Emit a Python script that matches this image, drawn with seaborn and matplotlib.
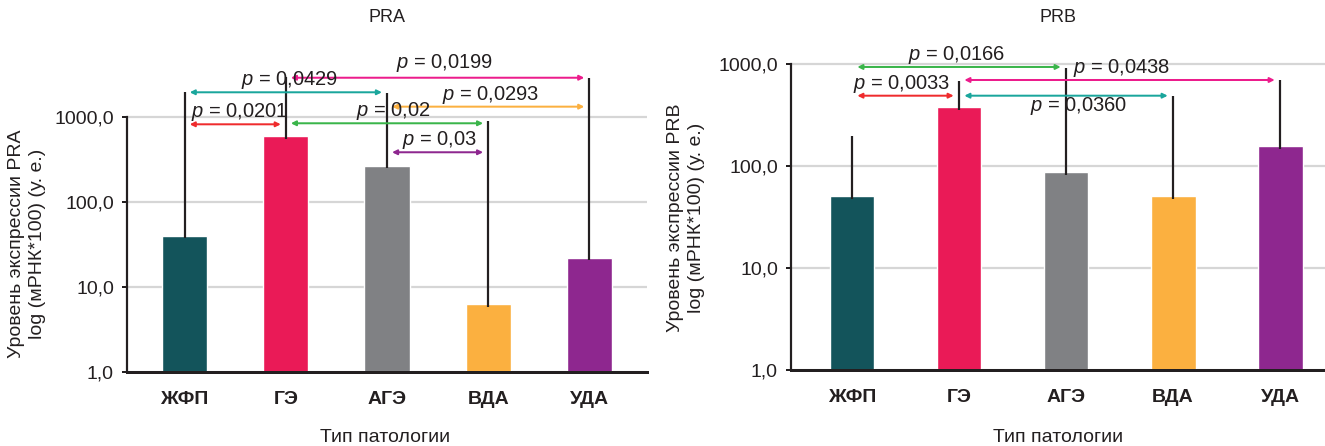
import numpy as np
import pandas as pd
import matplotlib
matplotlib.use("Agg")
import matplotlib.pyplot as plt
import seaborn as sns

# --- data -------------------------------------------------------------
categories = ["ЖФП", "ГЭ", "АГЭ", "ВДА", "УДА"]

pra_values = [40, 590, 265, 6.3, 22]
pra_upper = [1930, 2900, 1900, 900, 2870]

prb_values = [51, 380, 87, 51, 158]
prb_upper = [198, 680, 910, 490, 700]

# pairwise comparisons: (first group, second group, p-value label)
pra_pairs = [(0, 1, "0,0201"), (0, 2, "0,0429"), (1, 3, "0,02"),
             (1, 4, "0,0199"), (2, 4, "0,0293"), (2, 3, "0,03")]
prb_pairs = [(0, 2, "0,0166"), (0, 1, "0,0033"), (1, 4, "0,0438"),
             (1, 3, "0,0360")]

ytick_values = [1, 10, 100, 1000]
ytick_labels = ["1,0", "10,0", "100,0", "1000,0"]

# --- styling ----------------------------------------------------------
bar_colors = ["#13545b", "#ea1a57", "#808184", "#fbb040", "#8e278f"]
pra_arrow_colors = ["#ef2b2d", "#1aa69c", "#3ab54a", "#ec1c8c", "#fbb040", "#8e278f"]
prb_arrow_colors = ["#3ab54a", "#ef2b2d", "#ec1c8c", "#1aa69c"]
# arrow heights (data units) and label offsets (px: dx, dy)
pra_levels = [814, 1936, 837, 2870, 1312, 382]
pra_text_off = [(4, 12), (4, 12), (6, 12), (7, 15), (3, 12), (2, 12)]
prb_levels = [935, 489, 697, 489]
prb_text_off = [(-2, 12), (-4, 12), (2, 12), (13, -10)]

sns.set_theme(style="white")
plt.rcParams["font.family"] = ["Liberation Sans", "DejaVu Sans"]
plt.rcParams["mathtext.fontset"] = "custom"
plt.rcParams["mathtext.it"] = "Liberation Sans:italic"
plt.rcParams["mathtext.rm"] = "Liberation Sans"

W, H = 1325, 446
fig = plt.figure(figsize=(W / 100, H / 100), dpi=100)
PX = 72 / 100  # points per pixel

ink = "#231f20"
grid_c = "#d6d6d6"


def panel(rect, values, upper, pairs, levels, colors, text_off, ylim_top,
          xlim, bar_width, title, title_x):
    ax = fig.add_axes(rect)
    df = pd.DataFrame({"cat": categories, "val": values})
    sns.barplot(data=df, x="cat", y="val", hue="cat", palette=bar_colors,
                order=categories, hue_order=categories, legend=False,
                width=bar_width, ax=ax, saturation=1, zorder=2)
    ax.set_yscale("log")
    ax.set_ylim(1, ylim_top)
    ax.set_xlim(*xlim)

    # upper whiskers
    x = np.arange(len(categories))
    ax.vlines(x, np.array(values) * 0.93, upper, color=ink, lw=2.2 * PX,
              zorder=3, clip_on=False)

    ax.set_yticks(ytick_values)
    ax.set_yticklabels(ytick_labels)
    ax.yaxis.set_minor_locator(matplotlib.ticker.NullLocator())
    ax.set_axisbelow(True)
    ax.yaxis.grid(True, color=grid_c, lw=2.2 * PX, zorder=0)
    ax.xaxis.grid(False)

    for s in ("top", "right"):
        ax.spines[s].set_visible(False)
    ax.spines["left"].set_bounds(1, 1000)
    ax.spines["left"].set_color(ink)
    ax.spines["left"].set_linewidth(2.2 * PX)
    ax.spines["bottom"].set_color(ink)
    ax.spines["bottom"].set_linewidth(3 * PX)

    ax.tick_params(axis="y", which="major", length=5 * PX, width=2 * PX,
                   color=ink, pad=8 * PX, labelsize=14, labelcolor=ink,
                   left=True)
    ax.tick_params(axis="x", length=0, pad=19 * PX, labelsize=14,
                   labelcolor=ink)
    for lbl in ax.get_xticklabels():
        lbl.set_fontweight("bold")
    ax.set_xlabel("")
    ax.set_ylabel("")

    # significance brackets
    for (i, j, p), lvl, col, (dx, dy) in zip(pairs, levels, colors, text_off):
        ax.annotate("", xy=(j - 0.05, lvl), xytext=(i + 0.05, lvl),
                    arrowprops=dict(arrowstyle="<|-|>", color=col,
                                    lw=2 * PX, mutation_scale=7,
                                    shrinkA=0, shrinkB=0),
                    annotation_clip=False, zorder=4)
        ax.annotate(f"$p$ = {p}", xy=((i + j) / 2, lvl),
                    xytext=(dx * PX, dy * PX), textcoords="offset points",
                    ha="center", va="center", fontsize=14.5, color=ink,
                    annotation_clip=False, zorder=5)

    fig.text(title_x / W, 1 - 17 / H, title, ha="center", va="center",
             fontsize=13, color=ink)
    return ax


# left panel: PRA
panel([127 / W, (H - 372) / H, 520 / W, 4 * 85.1 / H],
      pra_values, pra_upper, pra_pairs, pra_levels, pra_arrow_colors,
      pra_text_off, 1e4, (-0.57, 4.57), 0.445, "PRA", 387)

# right panel: PRB
panel([791 / W, (H - 370) / H, 534 / W, 3.5 * 102 / H],
      prb_values, prb_upper, prb_pairs, prb_levels, prb_arrow_colors,
      prb_text_off, 10 ** 3.5, (-0.57, 4.42), 0.42, "PRB", 1058)

# y-axis labels
fig.text(27 / W, 1 - 244 / H, "Уровень экспрессии PRA\nlog (мРНК*100) (у. е.)",
         rotation=90, ha="center", va="center", multialignment="center",
         fontsize=14, color=ink, linespacing=1.35)
fig.text(686 / W, 1 - 218 / H, "Уровень экспрессии PRB\nlog (мРНК*100) (у. е.)",
         rotation=90, ha="center", va="center", multialignment="center",
         fontsize=14, color=ink, linespacing=1.35)

# x-axis labels
fig.text(385 / W, 1 - 437 / H, "Тип патологии", ha="center", va="center",
         fontsize=14, color=ink)
fig.text(1058 / W, 1 - 437 / H, "Тип патологии", ha="center", va="center",
         fontsize=14, color=ink)

fig.savefig("out.png", dpi=100, facecolor="white")
